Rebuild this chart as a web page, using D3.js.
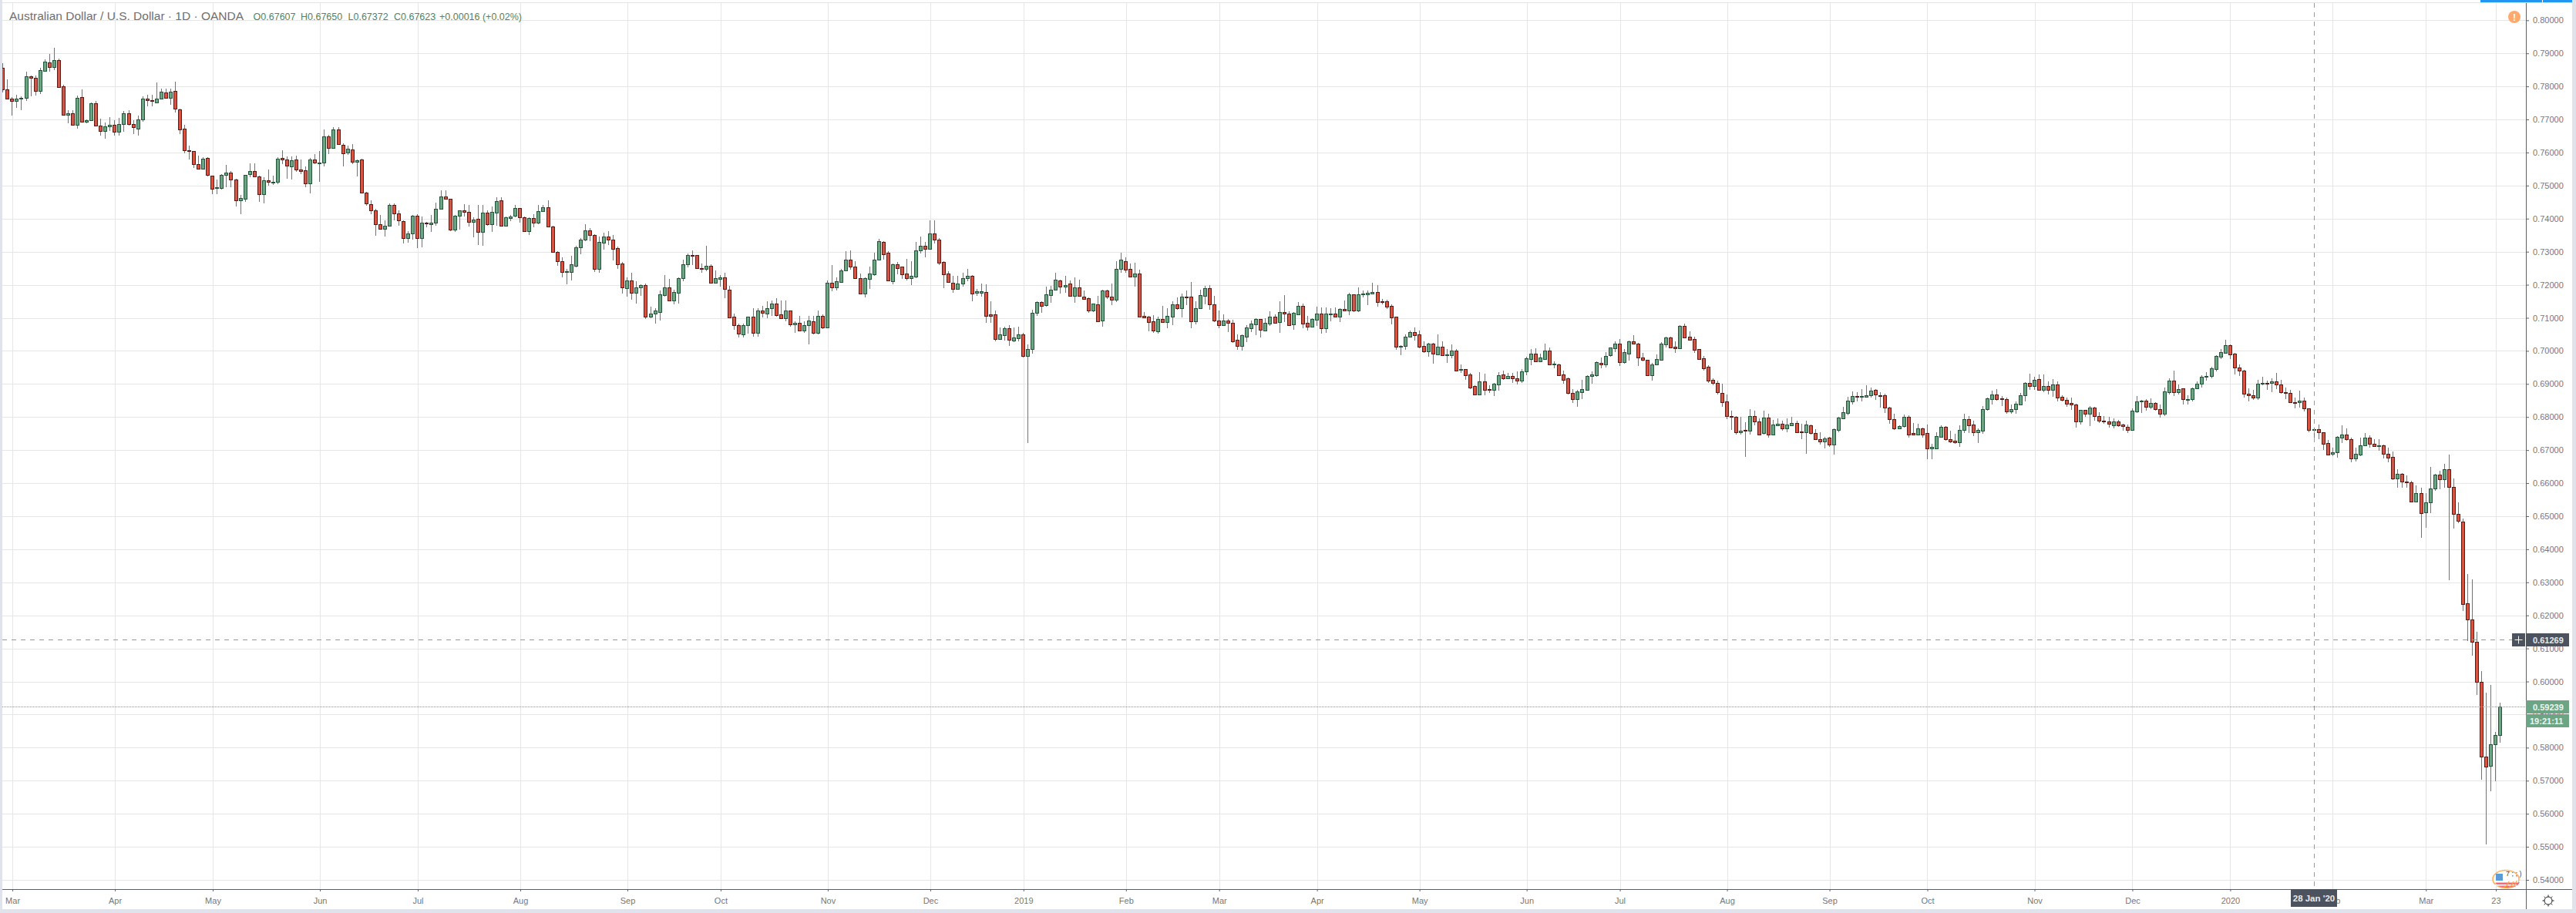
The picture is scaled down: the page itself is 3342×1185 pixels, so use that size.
<!DOCTYPE html>
<html><head><meta charset="utf-8">
<style>html,body{margin:0;padding:0;background:#fff;overflow:hidden}svg{display:block}text{font-family:"Liberation Sans",Arial,sans-serif}</style>
<script src="https://cdn.jsdelivr.net/npm/d3@7/dist/d3.min.js"></script>
</head><body><svg id="c" width="3342" height="1185"></svg>
<script>
// Prices are in units of 0.0001
const opens=[7856,7790,7762,7757,7762,7766,7830,7825,7787,7848,
7872,7859,7879,7800,7713,7718,7683,7767,7692,7697,
7749,7681,7664,7678,7683,7662,7685,7718,7685,7673,
7699,7762,7758,7752,7764,7781,7766,7786,7730,7672,
7607,7604,7565,7552,7583,7530,7492,7492,7532,7539,
7518,7455,7459,7534,7544,7528,7473,7516,7511,7511,
7583,7579,7559,7579,7549,7546,7506,7579,7569,7569,
7649,7615,7670,7623,7599,7609,7573,7579,7479,7444,
7425,7383,7369,7378,7442,7416,7393,7342,7355,7409,
7341,7388,7383,7387,7430,7467,7460,7366,7408,7425,
7421,7390,7400,7359,7418,7382,7418,7456,7378,7402,
7408,7432,7404,7362,7402,7387,7423,7435,7375,7300,
7272,7239,7239,7258,7314,7337,7365,7351,7248,7327,
7347,7337,7310,7265,7190,7214,7176,7192,7198,7104,
7113,7118,7169,7193,7153,7176,7219,7262,7291,7289,
7251,7248,7258,7206,7218,7223,7186,7104,7079,7051,
7077,7103,7055,7123,7113,7130,7142,7110,7099,7121,
7081,7086,7062,7079,7089,7055,7105,7072,7205,7192,
7209,7244,7275,7256,7221,7174,7218,7232,7276,7330,
7296,7211,7261,7254,7233,7220,7225,7304,7319,7309,
7356,7337,7268,7235,7207,7188,7204,7220,7226,7176,
7176,7179,7110,7110,7037,7048,7068,7032,7039,7051,
6985,7005,7116,7147,7139,7169,7185,7214,7195,7203,
7167,7193,7165,7159,7123,7140,7092,7182,7165,7155,
7248,7272,7249,7225,7233,7105,7103,7089,7060,7096,
7088,7104,7140,7130,7165,7163,7090,7128,7167,7189,
7140,7093,7079,7093,7084,7033,7016,7044,7069,7081,
7096,7062,7083,7103,7088,7117,7112,7081,7111,7135,
7084,7074,7095,7112,7069,7111,7112,7104,7126,7123,
7170,7123,7172,7172,7173,7179,7151,7151,7135,7103,
7013,7015,7043,7056,7049,7014,6999,7023,6990,7012,
6988,6988,7000,6943,6944,6928,6893,6867,6907,6884,
6881,6899,6928,6916,6924,6917,6911,6937,6976,6991,
6969,6976,7000,6960,6960,6928,6917,6872,6853,6876,
6883,6923,6927,6963,6960,6986,7008,7021,6965,6992,
7030,7023,6979,6972,6927,6960,6974,7020,7040,7012,
7009,7075,7042,7035,7005,6977,6951,6912,6903,6872,
6847,6803,6800,6755,6761,6758,6803,6786,6751,6798,
6748,6774,6779,6765,6776,6782,6756,6753,6775,6751,
6733,6727,6737,6716,6760,6797,6813,6848,6863,6860,
6862,6865,6882,6866,6865,6828,6793,6765,6772,6800,
6751,6748,6765,6751,6704,6706,6741,6770,6733,6728,
6723,6760,6793,6777,6755,6758,6823,6855,6868,6856,
6854,6818,6823,6839,6865,6903,6893,6914,6883,6893,
6883,6898,6861,6851,6842,6838,6786,6821,6809,6828,
6803,6789,6786,6776,6786,6777,6770,6762,6818,6848,
6849,6832,6842,6824,6809,6876,6910,6874,6886,6851,
6853,6886,6900,6923,6923,6946,6983,6993,7017,6991,
6949,6940,6870,6865,6858,6900,6903,6902,6907,6898,
6876,6872,6844,6844,6849,6826,6761,6763,6754,6721,
6688,6693,6737,6747,6733,6675,6686,6714,6737,6719,
6713,6714,6689,6679,6613,6628,6604,6603,6544,6570,
6511,6541,6583,6626,6611,6642,6589,6507,6484,6237,
6188,6119,6000,5774,5746,5809,5839];
const highs=[7871,7821,7768,7774,7770,7844,7832,7832,7856,7881,
7898,7917,7885,7805,7728,7728,7773,7791,7700,7751,
7757,7703,7690,7708,7697,7704,7726,7728,7697,7711,
7770,7774,7774,7811,7794,7794,7794,7814,7732,7683,
7622,7605,7591,7587,7585,7531,7518,7535,7563,7543,
7520,7472,7533,7567,7567,7529,7526,7549,7530,7587,
7607,7588,7588,7591,7580,7557,7584,7596,7604,7670,
7654,7677,7676,7628,7621,7625,7579,7582,7480,7455,
7429,7410,7394,7445,7445,7425,7394,7363,7411,7414,
7406,7390,7410,7449,7486,7486,7461,7411,7425,7443,
7441,7404,7442,7441,7424,7437,7464,7465,7406,7410,
7441,7433,7406,7404,7414,7441,7442,7456,7379,7301,
7284,7249,7287,7319,7342,7382,7371,7354,7346,7357,
7363,7350,7315,7268,7223,7236,7210,7201,7203,7133,
7129,7182,7229,7217,7185,7223,7275,7295,7303,7290,
7264,7317,7261,7243,7230,7237,7197,7112,7082,7082,
7104,7130,7129,7137,7151,7152,7159,7152,7152,7123,
7090,7107,7089,7106,7106,7121,7110,7212,7259,7222,
7249,7301,7303,7271,7234,7222,7254,7298,7338,7332,
7301,7265,7268,7256,7278,7271,7329,7345,7329,7394,
7394,7342,7272,7242,7227,7227,7237,7248,7230,7187,
7203,7202,7150,7123,7071,7073,7078,7070,7073,7054,
7020,7124,7150,7150,7195,7196,7236,7216,7226,7214,
7222,7216,7182,7162,7144,7166,7185,7185,7203,7272,
7296,7284,7265,7266,7245,7117,7106,7108,7103,7137,
7130,7150,7161,7173,7183,7208,7149,7185,7196,7199,
7166,7123,7110,7096,7095,7051,7051,7078,7092,7098,
7097,7098,7120,7110,7150,7168,7119,7117,7148,7143,
7107,7098,7134,7131,7131,7130,7132,7129,7152,7175,
7172,7193,7182,7183,7206,7199,7158,7154,7140,7104,
7018,7049,7061,7071,7061,7030,7024,7024,7050,7029,
7006,7019,7005,6958,6946,6933,6896,6936,6930,6896,
6903,6935,6941,6934,6934,6938,6945,6983,7006,7008,
6991,7022,7010,6968,6962,6941,6920,6885,6882,6912,
6926,6939,6968,6980,6996,7011,7028,7036,7005,7031,
7048,7025,6994,6974,6963,6989,7027,7042,7044,7028,
7078,7082,7059,7044,7006,6985,6957,6918,6910,6900,
6868,6820,6803,6801,6785,6824,6820,6796,6820,6810,
6792,6797,6790,6797,6800,6789,6779,6789,6777,6764,
6754,6740,6740,6765,6800,6831,6862,6878,6875,6885,
6896,6890,6884,6875,6870,6831,6810,6776,6807,6805,
6782,6780,6768,6778,6720,6755,6775,6772,6759,6749,
6775,6810,6803,6788,6765,6833,6858,6880,6885,6864,
6859,6838,6847,6873,6906,6931,6921,6928,6929,6908,
6915,6908,6865,6858,6859,6841,6822,6822,6834,6831,
6814,6803,6800,6797,6792,6780,6778,6827,6864,6852,
6854,6856,6844,6838,6889,6916,6941,6898,6887,6865,
6889,6908,6927,6935,6951,6987,7005,7034,7019,6993,
6959,6943,6887,6882,6912,6922,6910,6917,6934,6912,
6890,6882,6858,6880,6859,6827,6769,6778,6755,6731,
6707,6742,6775,6766,6737,6707,6737,6751,6745,6734,
6734,6717,6707,6696,6641,6630,6624,6608,6594,6587,
6571,6648,6629,6638,6659,6687,6615,6541,6493,6326,
6308,6150,6031,5966,5989,5847,5936];
const lows=[7782,7760,7712,7735,7727,7757,7770,7773,7777,7846,
7845,7850,7795,7711,7689,7681,7673,7693,7689,7695,
7678,7652,7642,7666,7650,7650,7662,7681,7656,7652,
7694,7739,7739,7751,7762,7765,7745,7720,7656,7597,
7579,7553,7549,7548,7528,7473,7475,7487,7494,7494,
7437,7413,7450,7526,7525,7450,7447,7499,7503,7504,
7565,7521,7518,7542,7534,7495,7477,7565,7512,7559,
7596,7611,7623,7559,7592,7566,7528,7476,7439,7414,
7348,7366,7345,7375,7394,7379,7325,7328,7336,7311,
7313,7373,7361,7379,7429,7458,7363,7359,7368,7406,
7375,7343,7321,7317,7379,7359,7379,7375,7375,7393,
7404,7387,7359,7350,7373,7383,7421,7375,7297,7257,
7222,7201,7213,7253,7292,7332,7332,7239,7236,7306,
7321,7273,7248,7174,7163,7155,7143,7166,7096,7099,
7082,7092,7165,7151,7141,7143,7211,7252,7259,7250,
7236,7241,7203,7203,7195,7159,7098,7064,7041,7041,
7053,7044,7044,7101,7099,7106,7104,7098,7090,7073,
7055,7061,7054,7020,7050,7050,7067,7071,7180,7182,
7206,7241,7245,7217,7171,7161,7187,7228,7275,7275,
7211,7201,7231,7217,7213,7199,7220,7295,7282,7307,
7324,7259,7189,7206,7176,7186,7195,7210,7150,7166,
7165,7085,7085,7030,7034,7032,7015,7027,7030,6980,
6722,6992,7106,7115,7134,7146,7183,7173,7175,7164,
7145,7165,7156,7116,7117,7089,7073,7156,7138,7147,
7236,7236,7223,7194,7102,7099,7059,7054,7052,7086,
7068,7079,7124,7101,7138,7069,7081,7127,7141,7124,
7088,7069,7075,7057,7024,7004,7001,7027,7057,7048,
7041,7060,7075,7082,7054,7088,7075,7065,7110,7069,
7062,7073,7075,7052,7054,7090,7103,7087,7120,7109,
7118,7117,7161,7138,7172,7134,7141,7127,7081,7003,
6987,7003,7042,7032,7007,6995,6983,6962,6989,6986,
6964,6978,6940,6934,6913,6885,6865,6865,6865,6872,
6864,6880,6913,6915,6903,6899,6902,6926,6957,6966,
6965,6975,6958,6948,6926,6901,6868,6842,6832,6854,
6881,6900,6921,6947,6950,6982,6997,6955,6962,6970,
7022,6955,6968,6926,6911,6958,6972,7010,7010,6994,
7006,7040,7032,6995,6974,6941,6904,6895,6869,6832,
6794,6762,6747,6748,6679,6746,6776,6744,6748,6737,
6746,6772,6759,6755,6774,6751,6734,6689,6746,6731,
6717,6706,6710,6686,6753,6796,6806,6839,6848,6848,
6861,6859,6852,6829,6813,6779,6760,6764,6769,6738,
6746,6744,6738,6672,6672,6702,6738,6729,6722,6718,
6709,6752,6751,6743,6722,6749,6820,6838,6850,6833,
6811,6811,6811,6837,6848,6881,6881,6879,6875,6868,
6861,6848,6848,6831,6822,6769,6777,6800,6773,6788,
6783,6779,6769,6766,6771,6759,6752,6761,6813,6813,
6820,6824,6820,6799,6803,6868,6864,6868,6838,6838,
6848,6885,6889,6910,6918,6938,6975,6992,6975,6929,
6924,6858,6848,6851,6851,6895,6882,6876,6885,6871,
6855,6843,6827,6829,6817,6753,6736,6734,6701,6683,
6682,6678,6722,6728,6662,6666,6681,6713,6707,6710,
6699,6674,6664,6610,6585,6585,6585,6541,6542,6434,
6464,6510,6576,6582,6585,6306,6462,6478,6213,6122,
6078,5960,5704,5508,5667,5698,5815];
const closes=[7790,7762,7755,7764,7765,7830,7825,7787,7849,7874,
7859,7879,7799,7715,7718,7683,7765,7694,7697,7749,
7681,7664,7680,7683,7662,7686,7718,7685,7676,7700,
7762,7758,7755,7762,7783,7766,7783,7732,7669,7606,
7605,7564,7552,7581,7532,7490,7495,7532,7539,7518,
7455,7463,7532,7544,7527,7473,7516,7511,7512,7581,
7578,7561,7577,7549,7545,7506,7579,7569,7570,7649,
7615,7670,7625,7597,7611,7573,7577,7478,7445,7425,
7383,7370,7379,7442,7415,7394,7342,7356,7409,7341,
7388,7385,7388,7430,7467,7459,7366,7409,7425,7421,
7390,7397,7359,7418,7383,7421,7453,7378,7404,7407,
7432,7405,7362,7402,7387,7423,7435,7376,7299,7272,
7239,7241,7261,7314,7337,7365,7351,7248,7330,7347,
7337,7309,7262,7192,7214,7176,7193,7198,7104,7112,
7121,7170,7193,7153,7179,7219,7263,7291,7288,7251,
7248,7258,7206,7219,7223,7188,7102,7079,7053,7077,
7103,7055,7123,7116,7130,7142,7109,7099,7121,7081,
7086,7062,7077,7091,7055,7105,7072,7205,7192,7210,
7244,7275,7255,7220,7174,7219,7233,7277,7333,7292,
7213,7261,7251,7232,7220,7226,7305,7319,7309,7356,
7337,7267,7232,7209,7188,7203,7221,7228,7174,7180,
7180,7106,7106,7037,7049,7068,7034,7040,7051,6985,
7005,7116,7147,7137,7170,7184,7216,7195,7200,7167,
7193,7167,7158,7123,7142,7090,7182,7165,7155,7247,
7275,7246,7225,7233,7104,7102,7088,7062,7096,7088,
7105,7140,7130,7165,7162,7090,7128,7168,7189,7141,
7092,7079,7091,7086,7030,7016,7047,7070,7082,7096,
7065,7084,7103,7086,7117,7113,7079,7114,7135,7083,
7074,7096,7112,7069,7112,7113,7104,7126,7123,7170,
7123,7172,7173,7175,7179,7148,7148,7134,7102,7013,
7014,7044,7058,7048,7013,6999,7023,6992,7012,6988,
6989,7000,6941,6944,6927,6890,6869,6907,6883,6881,
6900,6926,6918,6923,6916,6911,6937,6977,6991,6969,
6979,7000,6960,6961,6927,6913,6872,6853,6877,6884,
6923,6928,6965,6960,6984,7010,7023,6965,6996,7028,
7023,6979,6972,6927,6960,6975,7021,7040,7011,7009,
7075,7041,7034,7004,6976,6948,6911,6902,6874,6844,
6802,6800,6755,6758,6758,6803,6786,6748,6798,6748,
6777,6779,6765,6777,6782,6755,6753,6777,6751,6732,
6727,6735,6716,6763,6798,6814,6849,6863,6860,6863,
6865,6879,6867,6864,6828,6793,6765,6772,6800,6748,
6748,6765,6748,6704,6710,6742,6770,6732,6727,6723,
6761,6793,6776,6755,6761,6824,6856,6868,6855,6853,
6818,6824,6840,6865,6903,6893,6912,6883,6893,6883,
6898,6858,6851,6841,6839,6786,6821,6809,6828,6802,
6788,6786,6779,6786,6774,6772,6762,6819,6847,6849,
6832,6842,6823,6809,6877,6910,6874,6884,6853,6854,
6886,6900,6921,6924,6947,6984,6996,7017,6990,6949,
6940,6870,6865,6858,6900,6903,6902,6907,6898,6874,
6874,6844,6843,6849,6826,6761,6763,6753,6720,6686,
6693,6740,6747,6732,6675,6689,6714,6737,6719,6711,
6714,6688,6676,6613,6628,6604,6602,6544,6570,6509,
6542,6584,6626,6611,6642,6588,6507,6486,6234,6188,
6119,5999,5774,5743,5809,5839,5924];
const priceTicks=[0.80,0.79,0.78,0.77,0.76,0.75,0.74,0.73,0.72,0.71,0.70,0.69,0.68,0.67,0.66,0.65,0.64,0.63,0.62,0.61,0.60,0.59,0.58,0.57,0.56,0.55,0.54];
const timeTickIndex=[2,24,45,68,89,111,134,154,177,199,219,241,261,282,304,327,347,370,392,413,436,457,478,500,520,535];
const timeTickLabels=["Mar","Apr","May","Jun","Jul","Aug","Sep","Oct","Nov","Dec","2019","Feb","Mar","Apr","May","Jun","Jul","Aug","Sep","Oct","Nov","Dec","2020","Feb","Mar","23"];
const headerValues=[["O0.67607",328.6],["H0.67650",390],["L0.67372",451.5],["C0.67623",511],["+0.00016 (+0.02%)",570]];
const crosshairIndex=496, crosshairPrice=0.61269, lastPrice=0.59239;

if(![highs,lows,closes].every(a=>a.length===opens.length)) console.error("len",opens.length,highs.length,lows.length,closes.length);
const PIP=10000, W=3342, H=1185, axisX=3277, timeY=1154;
const x=d3.scaleLinear().domain([0,opens.length-1]).range([3.3,3243.3]);
const y=d3.scaleLinear().domain([0.80,0.54]).range([26.3,1142]);
const svg=d3.select("#c");
const px=v=>Math.round(v)+0.5;

// vertical and horizontal grid
const grid=svg.append("g").attr("stroke","#e6e6e6").attr("stroke-width",1);
grid.selectAll(".v").data(timeTickIndex).join("line").attr("x1",d=>px(x(d)+0.7)).attr("x2",d=>px(x(d)+0.7)).attr("y1",4).attr("y2",timeY);
grid.selectAll(".h").data(priceTicks).join("line").attr("x1",3).attr("x2",axisX).attr("y1",d=>px(y(d))).attr("y2",d=>px(y(d)));

// header
const hdr=svg.append("g");
hdr.append("text").attr("x",12).attr("y",26).attr("font-size",15.5).attr("fill","#6f6f6f").text("Australian Dollar / U.S. Dollar · 1D · OANDA");
hdr.selectAll(".v").data(headerValues).join("text").attr("x",d=>d[1]).attr("y",26).attr("font-size",12.5).attr("fill","#53835f").text(d=>d[0]);

// candles
const candles=svg.append("g").selectAll("g").data(opens.map((o,i)=>({i,o:o/PIP,h:highs[i]/PIP,l:lows[i]/PIP,c:closes[i]/PIP}))).join("g");
candles.append("line").attr("x1",d=>px(x(d.i))).attr("x2",d=>px(x(d.i))).attr("y1",d=>Math.round(y(d.h))).attr("y2",d=>Math.round(y(d.l))).attr("stroke","#737375").attr("stroke-width",1);
candles.append("rect")
 .attr("x",d=>px(x(d.i))-2).attr("width",4)
 .attr("y",d=>px(y(Math.max(d.o,d.c))))
 .attr("height",d=>Math.max(1,Math.round(y(Math.min(d.o,d.c)))-Math.round(y(Math.max(d.o,d.c)))))
 .attr("fill",d=>d.c>=d.o?"#6ba583":"#d75442")
 .attr("stroke",d=>d.c>=d.o?"#225437":"#5b1a13").attr("stroke-width",1);

// last price line + crosshair
svg.append("line").attr("x1",3).attr("x2",axisX).attr("y1",px(y(lastPrice))).attr("y2",px(y(lastPrice))).attr("stroke","#6ba583").attr("stroke-dasharray","1 1");
const cross=svg.append("g").attr("stroke","#9a9a9a").attr("stroke-dasharray","6 6");
cross.append("line").attr("x1",px(x(crosshairIndex))).attr("x2",px(x(crosshairIndex))).attr("y1",4).attr("y2",timeY);
cross.append("line").attr("x1",3).attr("x2",3259).attr("y1",px(y(crosshairPrice))).attr("y2",px(y(crosshairPrice)));

// axes
const axR=d3.axisRight(y).tickValues(priceTicks).tickFormat(d3.format(".5f")).tickSize(4).tickPadding(5);
const gy=svg.append("g").attr("transform",`translate(${axisX},0)`).call(axR);
const axB=d3.axisBottom(x).tickValues(timeTickIndex).tickFormat((d,i)=>timeTickLabels[i]).tickSize(3).tickPadding(8);
const gx=svg.append("g").attr("transform",`translate(0.7,${timeY})`).call(axB);
[gy,gx].forEach(g=>{g.select(".domain").remove();g.selectAll("line").attr("stroke","#5d606b");
 g.selectAll("text").attr("font-family",'"Liberation Sans",Arial,sans-serif').attr("font-size",11).attr("fill","#777777");});
svg.append("line").attr("x1",axisX+.5).attr("x2",axisX+.5).attr("y1",4).attr("y2",1180).attr("stroke","#5d606b");
svg.append("line").attr("x1",3).attr("x2",3337).attr("y1",timeY+.5).attr("y2",timeY+.5).attr("stroke","#5d606b");

// price labels
svg.append("rect").attr("x",3259).attr("y",822).attr("width",17).attr("height",17).attr("fill","#4c525e");
svg.append("path").attr("d","M3262.5 830.5h10M3267.5 825.5v10").attr("stroke","#fff").attr("stroke-width",1);
svg.append("rect").attr("x",3277).attr("y",822).attr("width",56).attr("height",17).attr("fill","#4c525e");
svg.append("text").attr("x",3286).attr("y",834.5).attr("font-size",11).attr("font-weight","bold").attr("fill","#e8e9ec").text(d3.format(".5f")(crosshairPrice));
svg.append("rect").attr("x",3277).attr("y",909).attr("width",56).attr("height",17).attr("fill","#6ba583");
svg.append("text").attr("x",3286).attr("y",921.5).attr("font-size",11).attr("font-weight","bold").attr("fill","#eef5f0").text(d3.format(".5f")(lastPrice));
svg.append("rect").attr("x",3277).attr("y",927).attr("width",56).attr("height",17).attr("fill","#6ba583");
svg.append("text").attr("x",3282).attr("y",939.5).attr("font-size",11).attr("font-weight","bold").attr("fill","#eef5f0").text("19:21:11");

// crosshair date label
svg.append("rect").attr("x",2972).attr("y",1154).attr("width",60).attr("height",23).attr("fill","#4c525e");
svg.append("text").attr("x",3002).attr("y",1170).attr("text-anchor","middle").attr("font-size",11.5).attr("font-weight","bold").attr("fill","#e8e9ec").text("28 Jan '20");

// frame
const frame="#e0e3eb";
svg.append("rect").attr("x",0).attr("y",0).attr("width",3).attr("height",H).attr("fill",frame);
svg.append("rect").attr("x",3337).attr("y",0).attr("width",5).attr("height",H).attr("fill",frame);
svg.append("rect").attr("x",0).attr("y",1180).attr("width",W).attr("height",5).attr("fill",frame);
svg.append("rect").attr("x",3).attr("y",3).attr("width",3334).attr("height",1).attr("fill",frame);
svg.append("rect").attr("x",3218).attr("y",0).attr("width",80).attr("height",3).attr("fill","#2196f3");
svg.append("rect").attr("x",3299).attr("y",0).attr("width",38).attr("height",3).attr("fill","#2196f3");

// alert badge
svg.append("circle").attr("cx",3262).attr("cy",22).attr("r",8).attr("fill","#ffa96d");
svg.append("text").attr("x",3262).attr("y",26.5).attr("text-anchor","middle").attr("font-size",12).attr("font-weight","bold").attr("fill","#fff").text("!");

// gear
const gear=svg.append("g").attr("transform","translate(3306,1169)").attr("fill","none").attr("stroke","#222");
gear.append("circle").attr("r",5);
gear.append("path").attr("d",d3.range(8).map(i=>{const a=i*Math.PI/4;return `M${5*Math.cos(a)} ${5*Math.sin(a)}L${7.5*Math.cos(a)} ${7.5*Math.sin(a)}`}).join(""));

// flag badge
const logo=svg.append("g").attr("transform","translate(3233,1127)");
logo.append("ellipse").attr("cx",18).attr("cy",14).attr("rx",17).attr("ry",11.5).attr("fill","#fff").attr("stroke","#ffb060").attr("stroke-width",1.6);
logo.append("path").attr("d","M4 18h32c-3 6-8 7-16 7S7 24 4 18z").attr("fill","#f46a78");
logo.append("rect").attr("x",4).attr("y",17).attr("width",30).attr("height",1.5).attr("fill","#fff");
logo.append("rect").attr("x",4).attr("y",21).attr("width",28).attr("height",1.5).attr("fill","#fff");
logo.append("rect").attr("x",5).attr("y",7).attr("width",9).attr("height",9).attr("fill","#5b9bd8");
logo.append("text").attr("x",18).attr("y",10).attr("font-size",9).attr("fill","#444").text("7 ; ; )");
logo.append("path").attr("d","M20 26c5-2 7-5 8-9M26 25c3-2 5-5 6-9M14 25c4-1 7-4 8-8").attr("fill","none").attr("stroke","#f9a24f").attr("stroke-width",1.2);
</script></body></html>
